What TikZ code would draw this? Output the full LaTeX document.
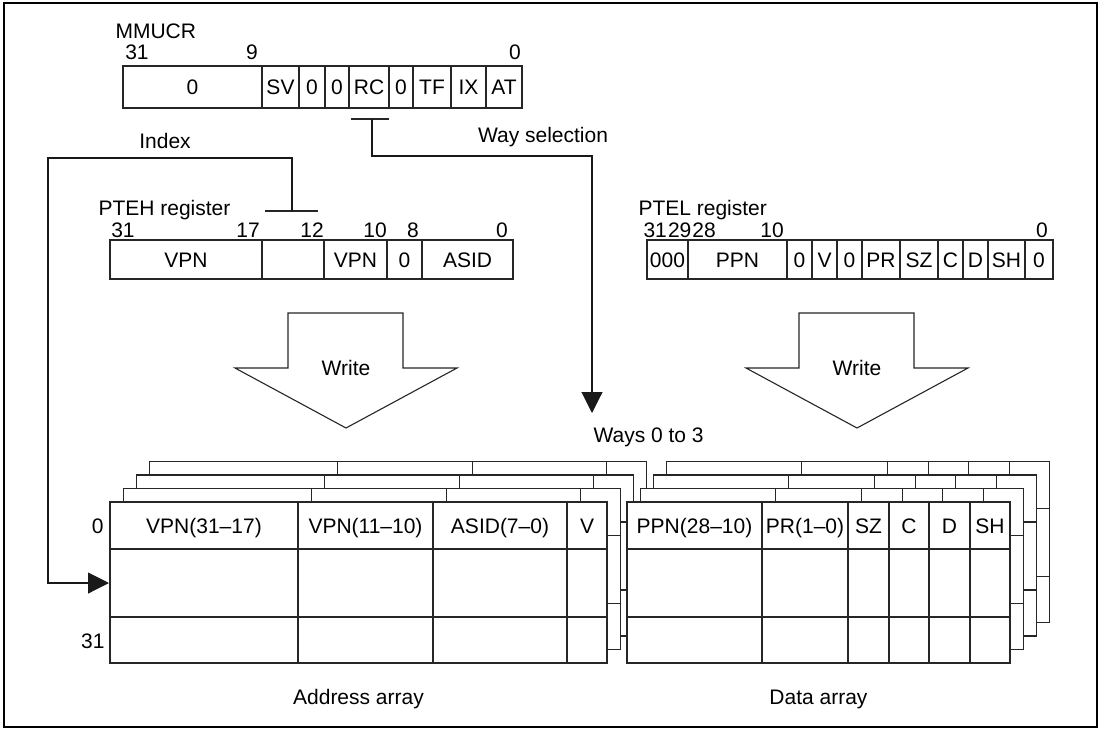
\documentclass[tikz,border=0pt]{standalone}
\usepackage{fontspec}
\setmainfont{Liberation Sans}
\usepackage{tikz}
\usetikzlibrary{arrows.meta}

\begin{document}
\begin{tikzpicture}[x=1pt,y=-1pt,line width=1.1pt,
  font=\fontsize{21}{24}\selectfont,
  lbl/.style={inner sep=0pt,anchor=base},
  lblw/.style={inner sep=0pt,anchor=base west},
  cell/.style={draw=black!85,fill=white},
  ln/.style={draw=black!85},
  sel/.style={draw=black!90,-{Triangle[length=21pt,width=21pt]}},
  wrarrow/.style={draw=black!85,fill=white}]
\useasboundingbox (0,0) rectangle (1102,729);
\draw[line width=2.2pt] (4,3) rectangle (1097,727);
%%%% MMUCR
\node[lblw] (mmucr) at (115,38) {MMUCR};
\node[lbl] (mb31) at (137,59) {31};
\node[lbl] (mb9) at (252,59) {9};
\node[lbl] (mb0) at (515,59) {0};
\draw[ln] (123,66) rectangle (522,108);
\foreach \x in {262,299,325,349,389,413,451,486} \draw[ln] (\x,66)--(\x,108);
\foreach \t/\x [count=\i] in {0/192.5,SV/280.5,0/312,0/337,RC/369,0/401,TF/432,IX/468.5,AT/504}
  \node[lbl] (m\i) at (\x,94.5) {\t};
%%%% Way selection
\coordinate (rcl) at (351,119);
\coordinate (rcr) at (389,119);
\coordinate (rcm) at (372,119);
\coordinate (wsel) at (372,156);
\coordinate (wbend) at (592,156);
\coordinate (wtip) at (592,413);
\draw[ln] (rcl)--(rcr);
\draw[sel] (rcm)--(wsel)--(wbend)--(wtip);
\node[lbl] (waysel) at (543,142) {Way selection};
\node[lblw] (ways) at (593,442) {Ways 0 to 3};
%%%% Index
\coordinate (ixl) at (265,211);
\coordinate (ixr) at (318,211);
\coordinate (ixm) at (292,211);
\coordinate (ixtop) at (48,158);
\coordinate (ixtip) at (109,583);
\draw[ln] (ixl)--(ixr);
\draw[sel] (ixm) |- (ixtop) |- (ixtip);
\node[lbl] (index) at (165,148) {Index};
%%%% PTEH
\node[lblw] (pteh) at (98,215) {PTEH register};
\foreach \t/\x in {31/123,17/248,12/312,10/375,8/413,0/502}
  \node[lbl] (hb\t) at (\x,237) {\t};
\draw[ln] (110,240) rectangle (513,279);
\foreach \x in {262,324,387,422} \draw[ln] (\x,240)--(\x,279);
\foreach \t/\x [count=\i] in {VPN/186,VPN/355.5,0/404.5,ASID/467.5}
  \node[lbl] (h\i) at (\x,267.5) {\t};
%%%% PTEL
\node[lblw] (ptel) at (638,215) {PTEL register};
\node[lblw] (lb31) at (643,237) {31};
\node[lblw] (lb29) at (lb31.base east) {29};
\node[lblw] (lb28) at (lb29.base east) {28};
\node[lbl] (lb10) at (772,237) {10};
\node[lbl] (lb0) at (1042,237) {0};
\draw[ln] (647,240) rectangle (1053,279);
\foreach \x in {688,787,812,837,862,900,938,963,988,1025} \draw[ln] (\x,240)--(\x,279);
\foreach \t/\x [count=\i] in {000/667.5,PPN/737.5,0/799.5,V/824.5,0/849.5,PR/881,SZ/919,C/950.5,D/975.5,SH/1006.5,0/1039}
  \node[lbl] (l\i) at (\x,267.5) {\t};
%%%% Write arrows
\draw[wrarrow] (288,313)--(403,313)--(403,368)--(457,368)--(346,428)--(235,368)--(288,368)--cycle;
\node[lbl] (wra) at (346,375) {Write};
\draw[wrarrow] (799,313)--(914,313)--(914,368)--(968,368)--(857,428)--(746,368)--(799,368)--cycle;
\node[lbl] (wrd) at (857,375) {Write};
%%%% Address array, ways 3..0
\foreach \k in {3,2,1,0}{
  \begin{scope}[shift={(13.3*\k,-13.5*\k)}]
    \filldraw[cell] (110,502) rectangle (607,663);
    \foreach \x in {298,433,567} \draw[ln] (\x,502)--(\x,663);
    \foreach \y in {549,617} \draw[ln] (110,\y)--(607,\y);
  \end{scope}}
\foreach \t/\x [count=\i] in {VPN(31–17)/204,VPN(11–10)/365.5,ASID(7–0)/500,V/587}
  \node[lbl] (a\i) at (\x,533) {\t};
\node[inner sep=0pt,anchor=base east] (row0) at (104,533) {0};
\node[inner sep=0pt,anchor=base east] (row31) at (105,648) {31};
\node[lbl] (addr) at (358.5,704) {Address array};
%%%% Data array, ways 3..0
\foreach \k in {3,2,1,0}{
  \begin{scope}[shift={(13.3*\k,-13.5*\k)}]
    \filldraw[cell] (627,502) rectangle (1010,663);
    \foreach \x in {762,848,889,929,970} \draw[ln] (\x,502)--(\x,663);
    \foreach \y in {549,617} \draw[ln] (627,\y)--(1010,\y);
  \end{scope}}
\foreach \t/\x [count=\i] in {PPN(28–10)/694.5,PR(1–0)/805,SZ/868.5,C/909,D/949.5,SH/990}
  \node[lbl] (d\i) at (\x,533) {\t};
\node[lbl] (data) at (818.5,704) {Data array};
\end{tikzpicture}
\end{document}
